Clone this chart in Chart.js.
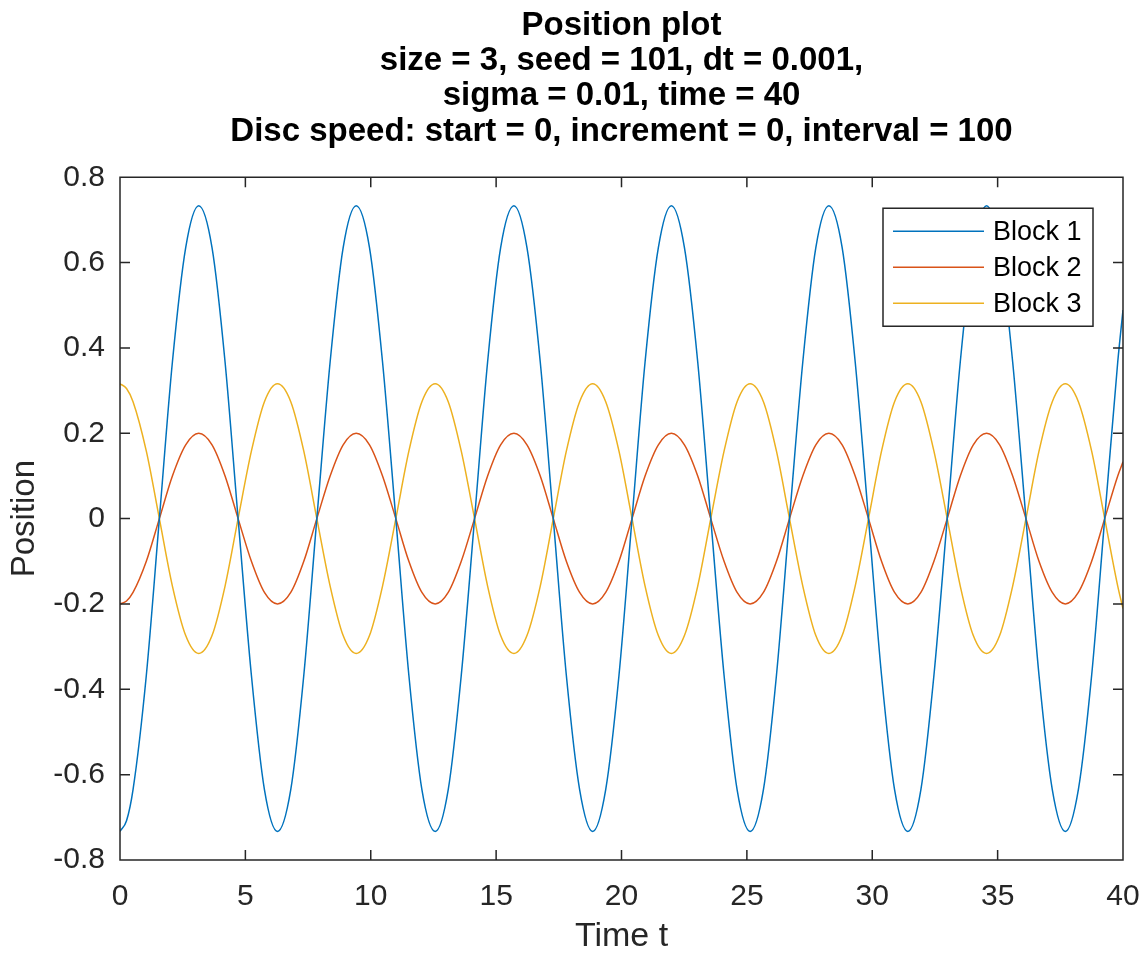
<!DOCTYPE html>
<html>
<head>
<meta charset="utf-8">
<title>Position plot</title>
<script src="https://cdn.jsdelivr.net/npm/chart.js@4"></script>
<style>
  html, body { margin: 0; padding: 0; background: #fff; }
  canvas { display: block; }
</style>
</head>
<body>
<canvas id="chart" width="1146" height="959"></canvas>
<script>
// time samples (t)
const times = [
  0, 0.26, 0.52, 1.05, 1.57, 2.09, 2.62, 3.14, 3.67, 4.19, 4.71, 5.24, 5.76,
  6.28, 6.81, 7.33, 7.85, 8.38, 8.90, 9.42, 9.95, 10.47, 11.00, 11.52, 12.04,
  12.57, 13.09, 13.61, 14.14, 14.66, 15.18, 15.71, 16.23, 16.76, 17.28, 17.80, 18.33,
  18.85, 19.37, 19.90, 20.42, 20.94, 21.47, 21.99, 22.51, 23.04, 23.56, 24.09, 24.61,
  25.13, 25.66, 26.18, 26.70, 27.23, 27.75, 28.27, 28.80, 29.32, 29.85, 30.37, 30.89,
  31.42, 31.94, 32.46, 32.99, 33.51, 34.03, 34.56, 35.08, 35.60, 36.13, 36.65, 37.18,
  37.70, 38.22, 38.75, 39.27, 39.79, 40
];

const block1 = [
  -0.733, -0.708, -0.635, -0.367, 0, 0.367, 0.635, 0.733, 0.635, 0.367, 0, -0.367, -0.635,
  -0.733, -0.635, -0.367, 0, 0.367, 0.635, 0.733, 0.635, 0.367, 0, -0.367, -0.635,
  -0.733, -0.635, -0.367, 0, 0.367, 0.635, 0.733, 0.635, 0.367, 0, -0.367, -0.635,
  -0.733, -0.635, -0.367, 0, 0.367, 0.635, 0.733, 0.635, 0.367, 0, -0.367, -0.635,
  -0.733, -0.635, -0.367, 0, 0.367, 0.635, 0.733, 0.635, 0.367, 0, -0.367, -0.635,
  -0.733, -0.635, -0.367, 0, 0.367, 0.635, 0.733, 0.635, 0.367, 0, -0.367, -0.635,
  -0.733, -0.635, -0.367, 0, 0.367, 0.489
];

const block2 = [
  -0.2, -0.193, -0.173, -0.1, 0, 0.1, 0.173, 0.2, 0.173, 0.1, 0, -0.1, -0.173,
  -0.2, -0.173, -0.1, 0, 0.1, 0.173, 0.2, 0.173, 0.1, 0, -0.1, -0.173,
  -0.2, -0.173, -0.1, 0, 0.1, 0.173, 0.2, 0.173, 0.1, 0, -0.1, -0.173,
  -0.2, -0.173, -0.1, 0, 0.1, 0.173, 0.2, 0.173, 0.1, 0, -0.1, -0.173,
  -0.2, -0.173, -0.1, 0, 0.1, 0.173, 0.2, 0.173, 0.1, 0, -0.1, -0.173,
  -0.2, -0.173, -0.1, 0, 0.1, 0.173, 0.2, 0.173, 0.1, 0, -0.1, -0.173,
  -0.2, -0.173, -0.1, 0, 0.1, 0.133
];

const block3 = [
  0.316, 0.305, 0.274, 0.158, 0, -0.158, -0.274, -0.316, -0.274, -0.158, 0, 0.158, 0.274,
  0.316, 0.274, 0.158, 0, -0.158, -0.274, -0.316, -0.274, -0.158, 0, 0.158, 0.274,
  0.316, 0.274, 0.158, 0, -0.158, -0.274, -0.316, -0.274, -0.158, 0, 0.158, 0.274,
  0.316, 0.274, 0.158, 0, -0.158, -0.274, -0.316, -0.274, -0.158, 0, 0.158, 0.274,
  0.316, 0.274, 0.158, 0, -0.158, -0.274, -0.316, -0.274, -0.158, 0, 0.158, 0.274,
  0.316, 0.274, 0.158, 0, -0.158, -0.274, -0.316, -0.274, -0.158, 0, 0.158, 0.274,
  0.316, 0.274, 0.158, 0, -0.158, -0.211
];

const seriesNames = ["Block 1", "Block 2", "Block 3"];
const seriesColors = ["#0072BD", "#D95319", "#EDB120"];

const titleLines = [
  "Position plot",
  "size = 3, seed = 101, dt = 0.001,",
  "sigma = 0.01, time = 40",
  "Disc speed: start = 0, increment = 0, interval = 100"
];

const FONT = "'Liberation Sans', Arial, Helvetica, sans-serif";
const AXIS_COLOR = "#262626";

function toPoints(ys) {
  return times.map((t, i) => ({ x: t, y: ys[i] }));
}

// box round the axes with inward ticks on all four sides
const boxAxes = {
  id: "boxAxes",
  afterDatasetsDraw(chart) {
    const { ctx, chartArea: a, scales } = chart;
    const len = 10;
    ctx.save();
    ctx.strokeStyle = AXIS_COLOR;
    ctx.lineWidth = 1.5;
    ctx.beginPath();
    ctx.rect(a.left, a.top, a.right - a.left, a.bottom - a.top);
    scales.x.ticks.forEach(t => {
      const px = scales.x.getPixelForValue(t.value);
      ctx.moveTo(px, a.bottom); ctx.lineTo(px, a.bottom - len);
      ctx.moveTo(px, a.top); ctx.lineTo(px, a.top + len);
    });
    scales.y.ticks.forEach(t => {
      const py = scales.y.getPixelForValue(t.value);
      ctx.moveTo(a.left, py); ctx.lineTo(a.left + len, py);
      ctx.moveTo(a.right, py); ctx.lineTo(a.right - len, py);
    });
    ctx.stroke();
    ctx.restore();
  }
};

// legend box in the upper right corner, inside the axes
const boxLegend = {
  id: "boxLegend",
  afterDraw(chart) {
    const { ctx, chartArea: a } = chart;
    const w = 210, h = 118;
    const x0 = a.right - 30 - w, y0 = a.top + 31;
    ctx.save();
    ctx.fillStyle = "#fff";
    ctx.fillRect(x0, y0, w, h);
    ctx.strokeStyle = AXIS_COLOR;
    ctx.lineWidth = 1.5;
    ctx.strokeRect(x0, y0, w, h);
    ctx.font = "27px " + FONT;
    ctx.textBaseline = "middle";
    ctx.fillStyle = "#000";
    chart.data.datasets.forEach((ds, i) => {
      const y = y0 + 23 + i * 36;
      ctx.strokeStyle = ds.borderColor;
      ctx.lineWidth = 1.5;
      ctx.beginPath();
      ctx.moveTo(x0 + 10, y);
      ctx.lineTo(x0 + 101, y);
      ctx.stroke();
      ctx.fillText(ds.label, x0 + 110, y + 1);
    });
    ctx.restore();
  }
};

new Chart(document.getElementById("chart"), {
  type: "line",
  data: {
    datasets: seriesNames.map((name, i) => ({
      label: name,
      data: toPoints([block1, block2, block3][i]),
      borderColor: seriesColors[i],
      backgroundColor: seriesColors[i],
      borderWidth: 1.5,
      pointRadius: 0,
      fill: false,
      cubicInterpolationMode: "monotone"
    }))
  },
  options: {
    responsive: false,
    animation: false,
    layout: { padding: { left: 0, right: 23, top: 0, bottom: 0 } },
    plugins: {
      legend: { display: false },
      tooltip: { enabled: false },
      title: {
        display: true,
        fullSize: false,
        text: titleLines,
        color: "#000",
        font: { family: FONT, size: 33, weight: "bold", lineHeight: 1.07 },
        padding: { top: 8, bottom: 28 }
      }
    },
    scales: {
      x: {
        type: "linear",
        min: 0,
        max: 40,
        afterFit(s) {
          s.height = 99;
          s.paddingLeft = 0;
          s.paddingRight = 0;
        },
        ticks: {
          stepSize: 5,
          color: AXIS_COLOR,
          padding: 19,
          maxRotation: 0,
          font: { family: FONT, size: 30 }
        },
        grid: { display: false, drawTicks: false },
        border: { display: false },
        title: {
          display: true,
          text: "Time t",
          color: AXIS_COLOR,
          font: { family: FONT, size: 34 },
          padding: { top: 0, bottom: 2 }
        }
      },
      y: {
        type: "linear",
        min: -0.8,
        max: 0.8,
        afterFit(s) { s.width = 120; },
        ticks: {
          stepSize: 0.2,
          color: AXIS_COLOR,
          padding: 15,
          font: { family: FONT, size: 30 },
          callback: v => String(Number(v.toFixed(1)))
        },
        grid: { display: false, drawTicks: false },
        border: { display: false },
        title: {
          display: true,
          text: "Position",
          color: AXIS_COLOR,
          font: { family: FONT, size: 33 },
          padding: { top: 5, bottom: 0 }
        }
      }
    }
  },
  plugins: [boxAxes, boxLegend]
});
</script>
</body>
</html>
